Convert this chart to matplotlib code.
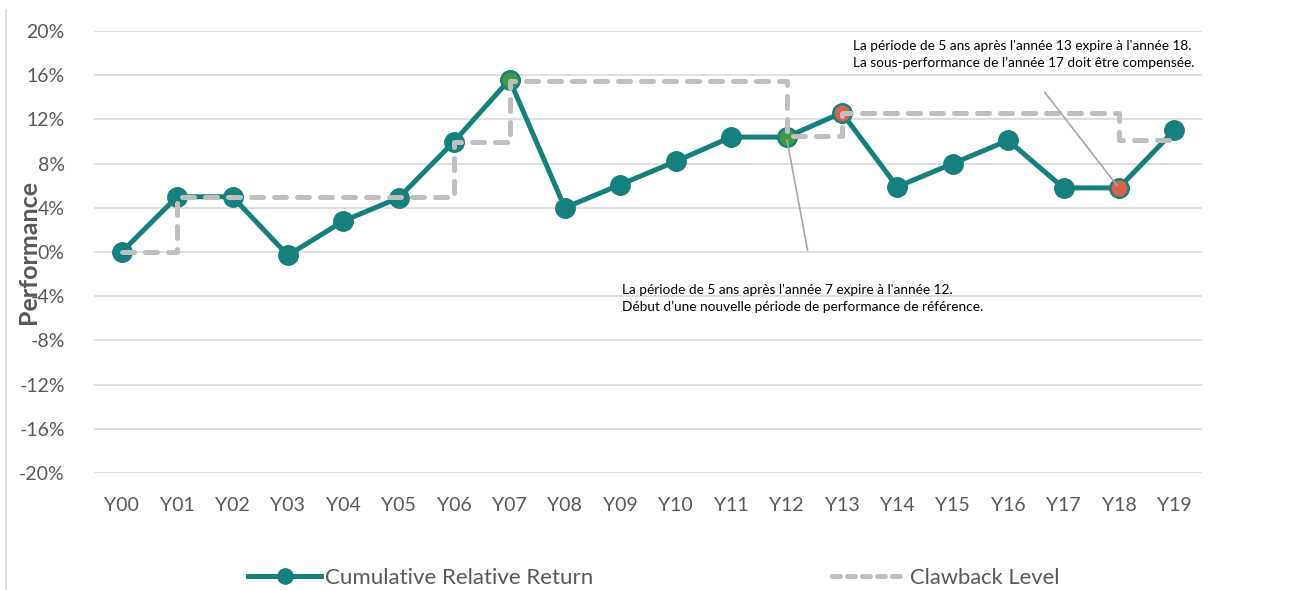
import matplotlib
matplotlib.use('Agg')
import matplotlib.pyplot as plt
from matplotlib.lines import Line2D

plt.rcParams['font.family'] = ['Lato', 'DejaVu Sans']

years = ['Y%02d' % i for i in range(20)]
cum_return = [0.0, 5.0, 5.0, -0.3, 2.8, 4.9, 10.0, 15.6, 4.0, 6.1,
              8.2, 10.4, 10.4, 12.6, 5.9, 8.0, 10.1, 5.8, 5.8, 11.0]
clawback = [0.0, 5.0, 5.0, 5.0, 5.0, 5.0, 10.0, 15.5, 15.5, 15.5,
            15.5, 15.5, 10.5, 12.6, 12.6, 12.6, 12.6, 12.6, 10.1, 10.1]
green_pts = [7, 12]
red_pts = [13, 18]
yticks = list(range(-20, 21, 4))

note1 = ("La période de 5 ans après l'année 7 expire à l'année 12.\n"
         "Début d\u2019une nouvelle période de performance de référence.")
note2 = ("La période de 5 ans après l'année 13 expire à l'année 18.\n"
         "La sous-performance de l\u2019année 17 doit être compensée.")

TEAL = '#16807E'
GREY = '#BFBFBF'
GREEN = '#3F9B47'
RED = '#D9634A'
TXT = '#595959'
DASH = (0, (2.4, 2.2))

fig = plt.figure(figsize=(12.92, 5.90), dpi=100)
ax = fig.add_axes([94/1292, 1 - 473/590, (1202-94)/1292, (473-31)/590])

x = list(range(len(years)))
ax.plot(x, clawback, color=GREY, lw=3.6, ls=DASH,
        drawstyle='steps-post', dash_capstyle='round', zorder=3)
ax.plot(x, cum_return, color=TEAL, lw=3.6, marker='o', ms=14,
        mfc=TEAL, mec=TEAL, zorder=2)
for i in green_pts:
    ax.plot(x[i], cum_return[i], 'o', ms=13, mfc=GREEN, mec=TEAL, mew=1.5, zorder=2.5)
for i in red_pts:
    ax.plot(x[i], cum_return[i], 'o', ms=13, mfc=RED, mec=TEAL, mew=1.5, zorder=2.5)

# leader lines + notes
ax.annotate('', xy=(12, cum_return[12]), xytext=(12.39, -0.1),
            arrowprops=dict(arrowstyle='-', color='#A6A6A6', lw=1.2), zorder=4)
ax.annotate('', xy=(18, cum_return[18]), xytext=(16.63, 14.66),
            arrowprops=dict(arrowstyle='-', color='#A6A6A6', lw=1.2), zorder=4)
ax.text(9.03, -4.2, note1, fontsize=9.8, color='black', va='center', ha='left',
        linespacing=1.45)
ax.text(13.2, 17.85, note2, fontsize=9.8, color='black', va='center', ha='left',
        linespacing=1.45)

ax.set_xlim(-0.5, len(years) - 0.5)
ax.set_ylim(-20, 20)
ax.set_yticks(yticks)
ax.set_yticklabels(['%d%%' % t for t in yticks])
ax.set_xticks(x)
ax.set_xticklabels(years)
ax.grid(axis='y', color='#D9D9D9', lw=1.2)
ax.set_axisbelow(True)
for s in ax.spines.values():
    s.set_visible(False)
ax.tick_params(length=0, labelsize=14, colors=TXT)
ax.tick_params(axis='x', pad=17)
ax.tick_params(axis='y', pad=21)

fig.text(28/1292, 1 - 252/590, 'Performance', rotation=90, fontsize=18,
         fontweight='bold', color=TXT, ha='center', va='center')

# left frame line
fig.add_artist(Line2D([6/1292, 6/1292], [0, 1 - 10/590], color='#D9D9D9', lw=1.2))

h1 = Line2D([], [], color=TEAL, lw=3.6, marker='o', ms=11)
h2 = Line2D([], [], color=GREY, lw=3.6, ls=(0, (1.6, 1.4)), dash_capstyle='round')
fig.legend([h1], ['Cumulative Relative Return'], loc='center left',
           bbox_to_anchor=(248/1292, 1 - 578/590), frameon=False, fontsize=16,
           borderpad=0, borderaxespad=0, handlelength=3.3, handletextpad=0.15,
           labelcolor=TXT)
fig.legend([h2], ['Clawback Level'], loc='center left',
           bbox_to_anchor=(832/1292, 1 - 578/590), frameon=False, fontsize=15.8,
           borderpad=0, borderaxespad=0, handlelength=3.1, handletextpad=0.45,
           labelcolor=TXT)

fig.savefig('out.png', dpi=100)
